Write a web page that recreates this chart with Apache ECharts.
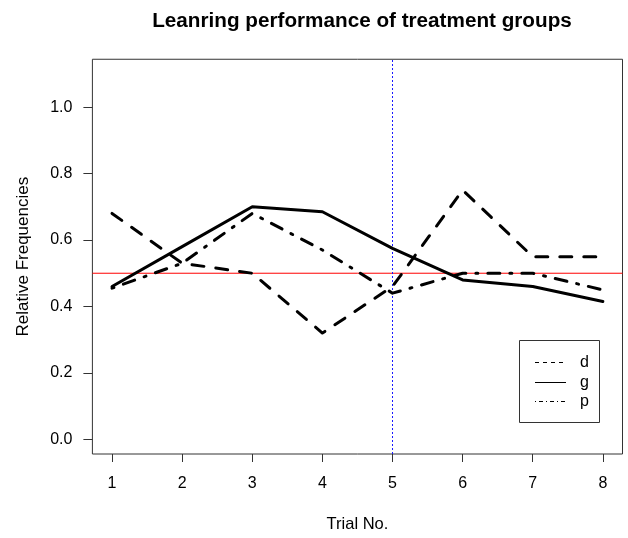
<!DOCTYPE html>
<html>
<head>
<meta charset="utf-8">
<script src="https://cdn.jsdelivr.net/npm/echarts@6/dist/echarts.min.js"></script>
<style>
  html, body { margin: 0; padding: 0; background: #fff; }
  #chart { width: 628px; height: 538px; }
</style>
</head>
<body>
<div id="chart"></div>
<script>
// Trial numbers and relative frequencies per treatment group
const trials = [1, 2, 3, 4, 5, 6, 7, 8];
const groupNames = ['d', 'g', 'p'];
const groupD = [0.68, 0.53, 0.50, 0.32, 0.46, 0.75, 0.55, 0.55];
const groupG = [0.46, 0.58, 0.70, 0.685, 0.575, 0.48, 0.46, 0.415];
const groupP = [0.455, 0.53, 0.68, 0.57, 0.44, 0.50, 0.50, 0.45];
const yTicks = [0, 0.2, 0.4, 0.6, 0.8, 1.0];
const refLevel = 0.5;
const refTrial = 5;

// axis extents (data range padded by 4% on each side)
const xRange = [0.72, 8.28];
const yRange = [-0.044, 1.144];

const FONT = 'Liberation Sans, Arial, sans-serif';
const pairs = vals => trials.map((t, i) => [t, vals[i]]);

// line dash patterns: series (thick) and legend key (thin)
const dashes = { d: [12, 12], g: 'solid', p: [2, 10, 12, 10] };
const keyDashes = { d: [4, 4], g: null, p: [1, 3, 4, 3] };

const chart = echarts.init(document.getElementById('chart'), null, { renderer: 'canvas' });

function lineSeries(name, vals) {
  return {
    name: name,
    type: 'line',
    data: pairs(vals),
    symbol: 'none',
    smooth: false,
    itemStyle: { color: '#000' },
    lineStyle: { color: '#000', width: 3, type: dashes[name], cap: 'round', join: 'round' },
    z: 3
  };
}

function refLine(name, data, color, type) {
  return {
    name: name,
    type: 'line',
    data: data,
    symbol: 'none',
    silent: true,
    itemStyle: { color: color },
    lineStyle: { color: color, width: 1, type: type },
    emphasis: { disabled: true },
    z: 2
  };
}

// legend box drawn as graphic elements
const key = { x: 519, y: 340, w: 80, h: 82, lineX0: 535, lineX1: 566, textX: 580, rowY0: 362, rowGap: 19.5 };
const legendGraphics = [{
  type: 'rect',
  shape: { x: key.x + 0.5, y: key.y + 0.5, width: key.w, height: key.h },
  style: { fill: '#fff', stroke: '#333', lineWidth: 1 },
  z: 10
}];
groupNames.forEach((n, i) => {
  const cy = Math.round(key.rowY0 + i * key.rowGap) + 0.5;
  legendGraphics.push({
    type: 'line',
    shape: { x1: key.lineX0, y1: cy, x2: key.lineX1, y2: cy },
    style: { stroke: '#000', lineWidth: 1, lineDash: keyDashes[n] },
    z: 11
  });
  legendGraphics.push({
    type: 'text',
    style: { text: n, x: key.textX, y: cy, fill: '#000', font: '16px ' + FONT, textVerticalAlign: 'middle', verticalAlign: 'middle' },
    z: 11
  });
});

chart.setOption({
  animation: false,
  backgroundColor: '#fff',
  textStyle: { fontFamily: FONT },
  title: {
    text: 'Leanring performance of treatment groups',
    left: 357, top: 6, textAlign: 'center',
    textStyle: { fontFamily: FONT, fontSize: 20.7, fontWeight: 'bold', color: '#000' }
  },
  grid: {
    left: 92.4, right: 5.5, top: 59.25, bottom: 83.5,
    show: true, borderColor: '#333', borderWidth: 1, backgroundColor: 'transparent'
  },
  xAxis: {
    type: 'value',
    min: xRange[0], max: xRange[1],
    name: 'Trial No.',
    nameLocation: 'middle',
    nameGap: 62,
    nameTextStyle: { fontFamily: FONT, fontSize: 16.5, color: '#000' },
    splitLine: { show: false },
    axisLine: { show: false, onZero: false },
    axisTick: { show: true, inside: false, length: 8, lineStyle: { color: '#333' }, customValues: trials },
    axisLabel: { show: true, margin: 22, fontSize: 16, color: '#000', fontFamily: FONT, customValues: trials }
  },
  yAxis: {
    type: 'value',
    min: yRange[0], max: yRange[1],
    name: 'Relative Frequencies',
    nameLocation: 'middle',
    nameGap: 61,
    nameRotate: 90,
    nameTextStyle: { fontFamily: FONT, fontSize: 17, color: '#000' },
    splitLine: { show: false },
    axisLine: { show: false, onZero: false },
    axisTick: { show: true, inside: false, length: 9, lineStyle: { color: '#333' }, customValues: yTicks },
    axisLabel: {
      show: true, margin: 20, fontSize: 16, color: '#000', fontFamily: FONT,
      customValues: yTicks,
      formatter: v => v.toFixed(1)
    }
  },
  graphic: legendGraphics,
  series: [
    refLine('level', [[xRange[0], refLevel], [xRange[1], refLevel]], '#ff0000', 'solid'),
    refLine('marker', [[refTrial, yRange[0]], [refTrial, yRange[1]]], '#1a1aff', [2, 2]),
    lineSeries(groupNames[0], groupD),
    lineSeries(groupNames[1], groupG),
    lineSeries(groupNames[2], groupP)
  ]
});
</script>
</body>
</html>
